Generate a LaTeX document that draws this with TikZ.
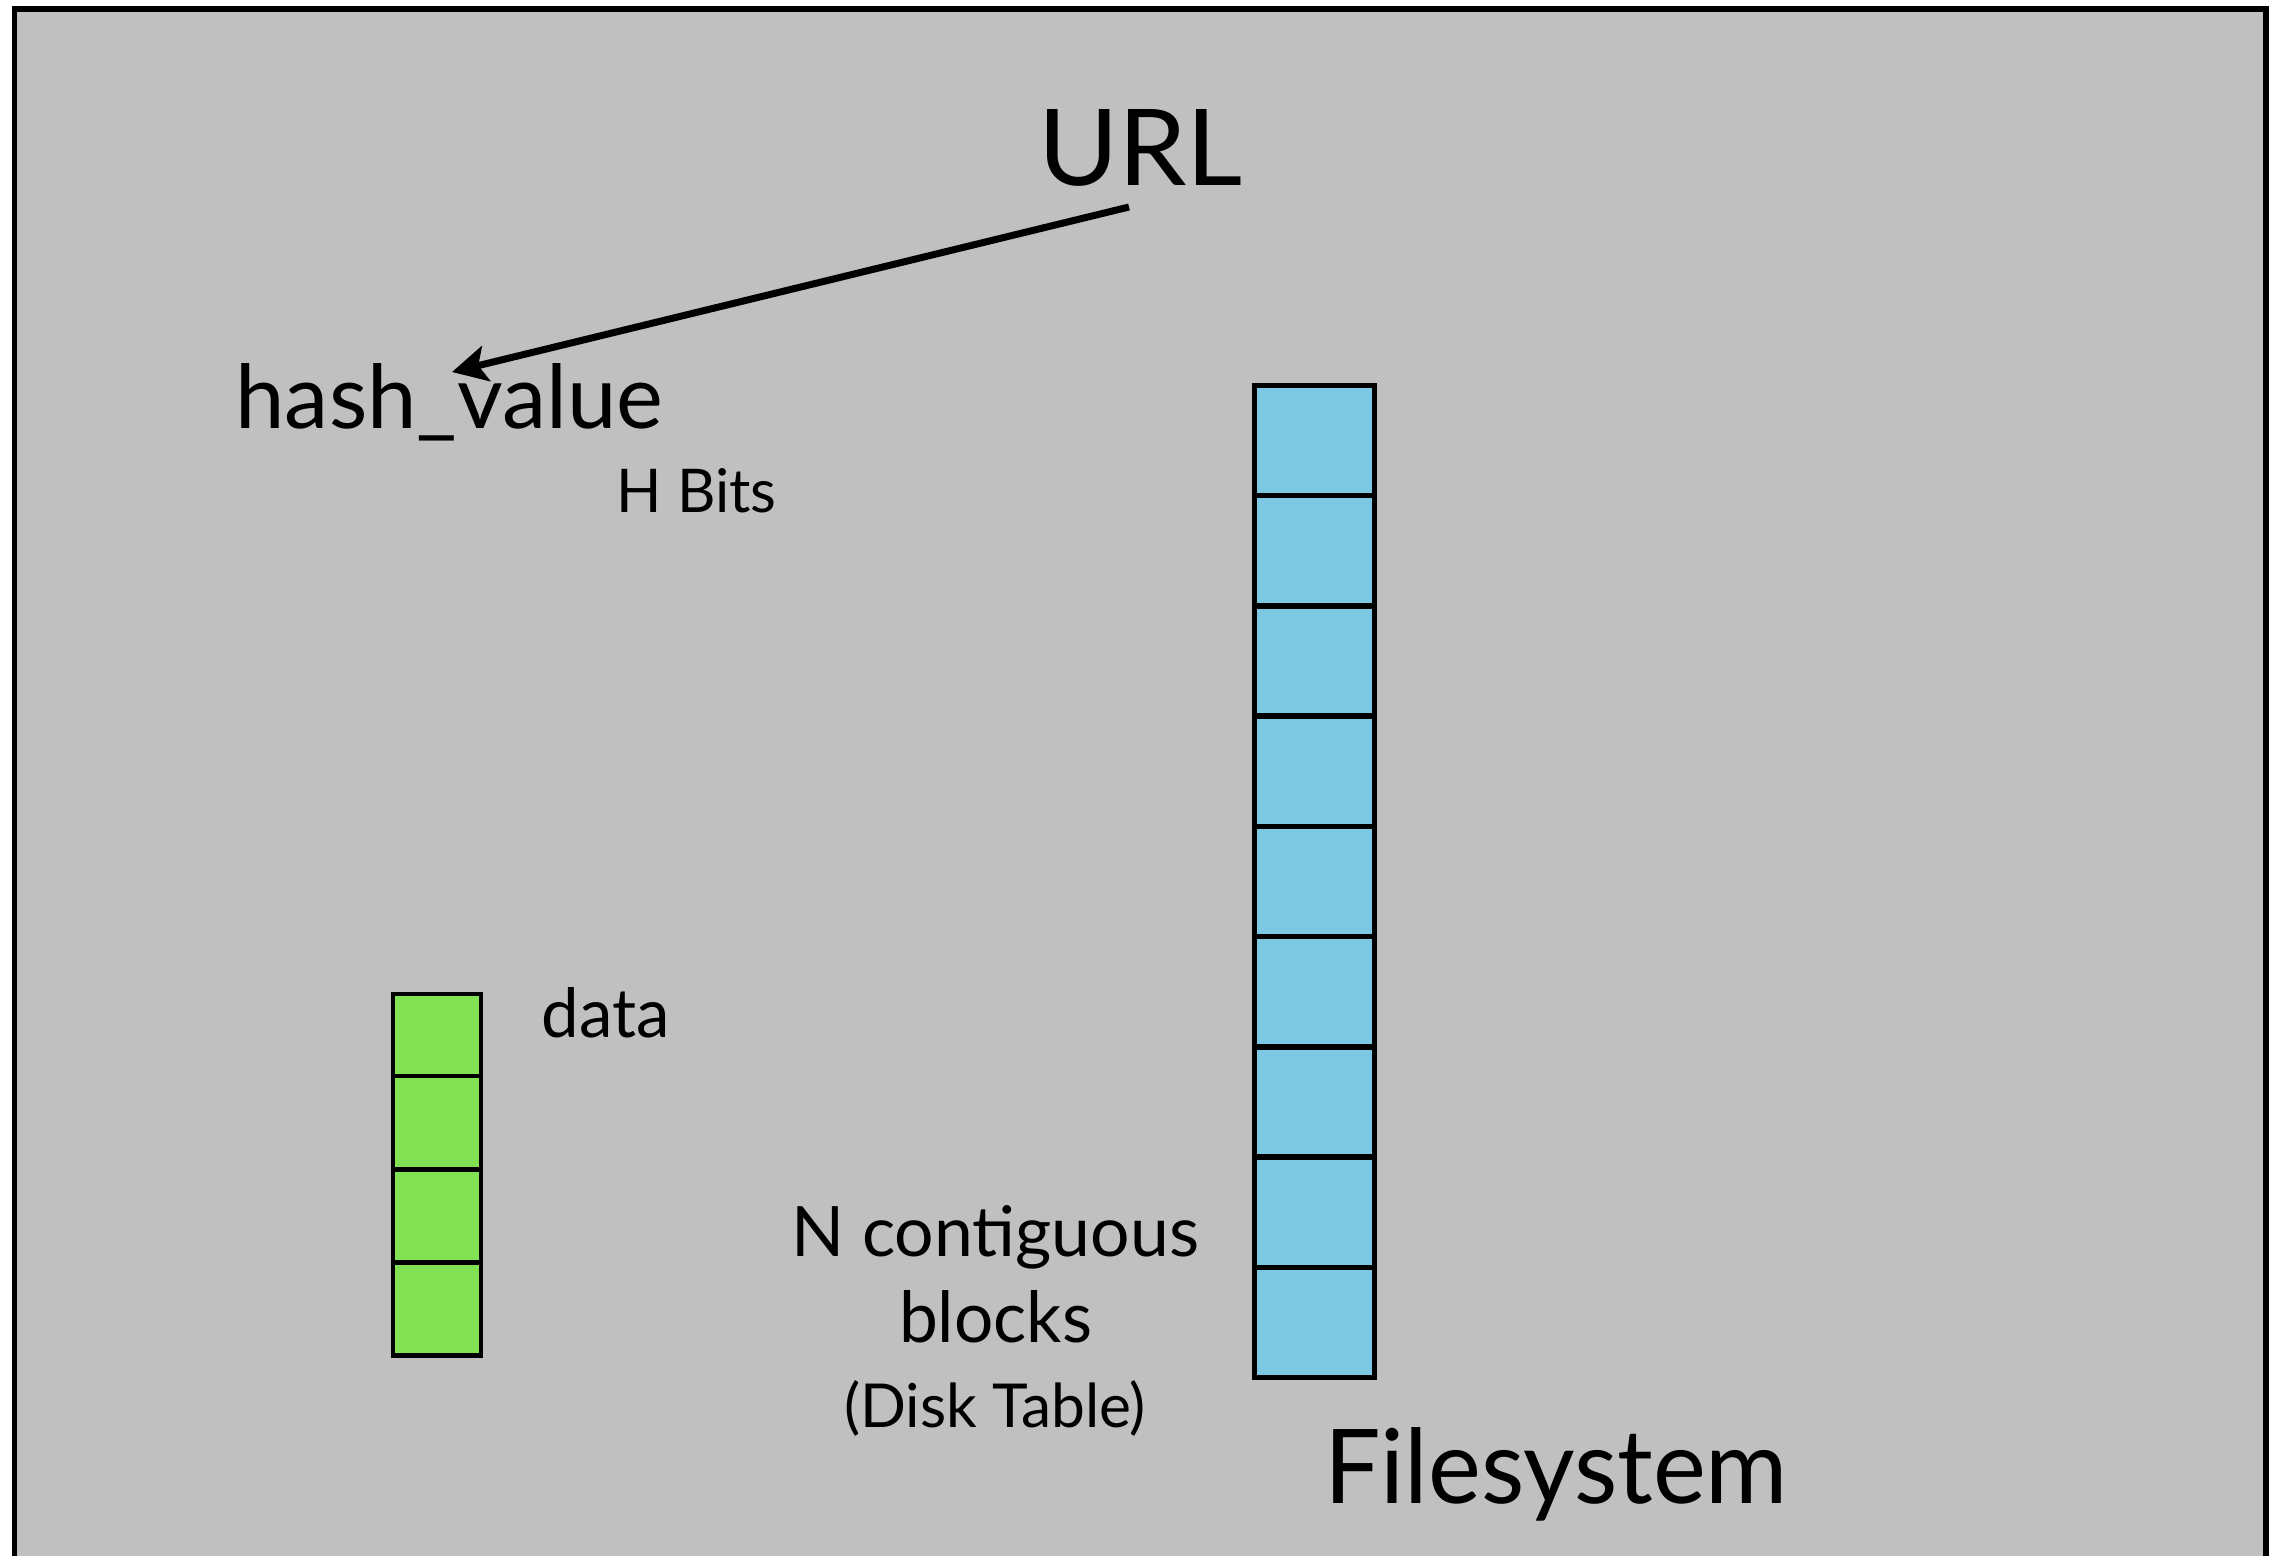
\documentclass[tikz,border=0pt]{standalone}
\usepackage{fontspec}
\setmainfont{Lato}
\usepackage{graphicx}
\usetikzlibrary{arrows.meta,calc}

\definecolor{panelgray}{RGB}{192,192,192}
\definecolor{datagreen}{RGB}{130,225,83}
\definecolor{diskblue}{RGB}{124,200,226}

% text scaled to a given width and height (in pt)
\newcommand{\fitbox}[3]{\resizebox{#1pt}{#2pt}{\fontsize{100}{110}\selectfont #3}}

\tikzset{
  lbl/.style={inner sep=0pt, outer sep=0pt, anchor=base},
  gcell/.style={draw=black, fill=datagreen, line width=4.5pt, minimum width=88pt,
                inner sep=0pt, outer sep=0pt},
  bcell/.style={draw=black, fill=diskblue, line width=5.5pt, minimum width=120pt,
                minimum height=110.22pt, inner sep=0pt, outer sep=0pt},
  link/.style={line width=7pt, -{Stealth[length=35pt, width=36pt, inset=8pt]}}
}

\begin{document}
\begin{tikzpicture}[x=1pt,y=-1pt]
  \useasboundingbox (0,0) rectangle (2269,1555);
  \fill[white] (0,0) rectangle (2269,1555);

  % grey panel with its frame
  \begin{scope}
    \clip (0,0) rectangle (2269,1555);
    \draw[line width=5.5pt, fill=panelgray] (14.5,9) rectangle (2266,1600);
  \end{scope}

  % disk table: nine contiguous blocks
  \foreach \i in {1,...,9}
    \node[bcell] (blk\i) at (1314.5, {385.5 + (\i-0.5)*110.22}) {};

  % data blocks
  \node[gcell, minimum height=82pt]   (dat1) at (437,1035)    {};
  \node[gcell, minimum height=93.5pt] (dat2) at (437,1122.75) {};
  \node[gcell, minimum height=93pt]   (dat3) at (437,1216)    {};
  \node[gcell, minimum height=93pt]   (dat4) at (437,1309)    {};

  % labels
  \node[lbl] (url)   at (1140.5,185) {\fitbox{205}{76}{URL}};
  \node[lbl] (hash)  at (449.5,428)  {\fitbox{428}{65}{hash\_value}};
  \node[lbl] (hbits) at (696.5,512)  {\fitbox{160}{44}{H Bits}};
  \node[lbl] (data)  at (605.5,1037) {\fitbox{128}{50}{data}};
  \node[lbl] (fs)    at (1556,1503)  {\fitbox{464}{76}{Filesystem}};
  \node[lbl] (ncont) at (995,1256)   {\fitbox{408}{51}{N contiguous}};
  \node[lbl] (nblk)  at (995.5,1342) {\fitbox{193}{52}{blocks}};
  \node[lbl] (ndisk) at (995,1427)   {\fitbox{302}{47}{(Disk Table)}};

  % hashing the URL
  \draw[link] ($(url.base)+(-11.5,22)$) -- ($(hash.base)+(2.5,-56)$);
\end{tikzpicture}
\end{document}
